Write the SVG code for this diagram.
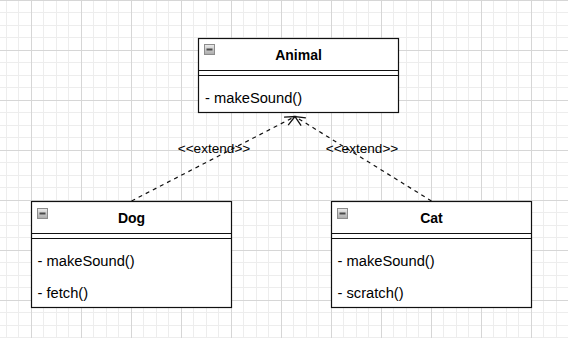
<svg xmlns="http://www.w3.org/2000/svg" width="568" height="338" viewBox="0 0 568 338">
<style>
.minor{stroke:#ededed;stroke-width:1;fill:none}
.major{stroke:#d6d6d6;stroke-width:1;fill:none}
.box{fill:#ffffff;stroke:#111111;stroke-width:1.2}
.sep{stroke:#111111;stroke-width:1.2;fill:none}
.title{font-family:"Liberation Sans",Arial,sans-serif;font-size:14px;font-weight:bold;fill:#000;text-anchor:middle}
.member{font-family:"Liberation Sans",Arial,sans-serif;font-size:14.7px;fill:#000}
.label{font-family:"Liberation Sans",Arial,sans-serif;font-size:13.6px;fill:#000;text-anchor:middle}
.edge{stroke:#111111;stroke-width:1.2;fill:none;stroke-dasharray:4 4}
.icon{fill:url(#ig);stroke:#8c8c8c;stroke-width:1}
.iconbar{stroke:#4a4a4a;stroke-width:2}
</style>
<defs>
<linearGradient id="ig" x1="0" y1="0" x2="0" y2="1">
<stop offset="0" stop-color="#ececec"/>
<stop offset="1" stop-color="#a9a9a9"/>
</linearGradient>
<marker id="open" markerUnits="userSpaceOnUse" markerWidth="14" markerHeight="14" viewBox="-12 -7 14 14" refX="0" refY="0" orient="auto">
<path d="M-10 -4.5L0 0L-10 4.5" fill="none" stroke="#111111" stroke-width="1.3" stroke-dasharray="none"/>
</marker>
</defs>
<rect width="568" height="338" fill="#ffffff"/>
<g id="grid">
<path class="minor" d="M6.5 0V338M18.5 0V338M43.5 0V338M56.5 0V338M68.5 0V338M93.5 0V338M106.5 0V338M118.5 0V338M143.5 0V338M156.5 0V338M168.5 0V338M193.5 0V338M206.5 0V338M218.5 0V338M243.5 0V338M256.5 0V338M268.5 0V338M293.5 0V338M306.5 0V338M318.5 0V338M343.5 0V338M356.5 0V338M368.5 0V338M393.5 0V338M406.5 0V338M418.5 0V338M443.5 0V338M456.5 0V338M468.5 0V338M493.5 0V338M506.5 0V338M518.5 0V338M543.5 0V338M556.5 0V338M0 12.5H568M0 25.5H568M0 37.5H568M0 62.5H568M0 75.5H568M0 87.5H568M0 112.5H568M0 125.5H568M0 137.5H568M0 162.5H568M0 175.5H568M0 187.5H568M0 212.5H568M0 225.5H568M0 237.5H568M0 262.5H568M0 275.5H568M0 287.5H568M0 312.5H568M0 325.5H568M0 337.5H568"/>
<path class="major" d="M31.5 0V338M81.5 0V338M131.5 0V338M181.5 0V338M231.5 0V338M281.5 0V338M331.5 0V338M381.5 0V338M431.5 0V338M481.5 0V338M531.5 0V338M0 0.5H568M0 50.5H568M0 100.5H568M0 150.5H568M0 200.5H568M0 250.5H568M0 300.5H568"/>
</g>
<g id="connectors">
<path class="edge" d="M131.5 201L295 116.5" marker-end="url(#open)"/>
<path class="edge" d="M431.5 201L295 116.5" marker-end="url(#open)"/>
<text class="label" x="214" y="152.5">&lt;&lt;extend&gt;&gt;</text>
<text class="label" x="362" y="152.5">&lt;&lt;extend&gt;&gt;</text>
</g>
<g id="animal">
<rect class="box" x="198.5" y="38.5" width="200" height="74"/>
<path class="sep" d="M198.5 70.5H398.5M198.5 75.5H398.5"/>
<rect class="icon" x="204.5" y="44.5" width="10" height="10"/>
<path class="iconbar" d="M206.5 49.5H212.5"/>
<text class="title" x="298.5" y="60">Animal</text>
<text class="member" x="205" y="103">- makeSound()</text>
</g>
<g id="dog">
<rect class="box" x="31.5" y="201.5" width="200" height="106"/>
<path class="sep" d="M31.5 233.5H231.5M31.5 238.5H231.5"/>
<rect class="icon" x="37.5" y="208.5" width="10" height="10"/>
<path class="iconbar" d="M39.5 213.5H45.5"/>
<text class="title" x="131.5" y="223">Dog</text>
<text class="member" x="37.5" y="266">- makeSound()</text>
<text class="member" x="37.5" y="298">- fetch()</text>
</g>
<g id="cat">
<rect class="box" x="331.5" y="201.5" width="200" height="106"/>
<path class="sep" d="M331.5 233.5H531.5M331.5 238.5H531.5"/>
<rect class="icon" x="337.5" y="208.5" width="10" height="10"/>
<path class="iconbar" d="M339.5 213.5H345.5"/>
<text class="title" x="431.5" y="223">Cat</text>
<text class="member" x="337.5" y="266">- makeSound()</text>
<text class="member" x="337.5" y="298">- scratch()</text>
</g>
</svg>
